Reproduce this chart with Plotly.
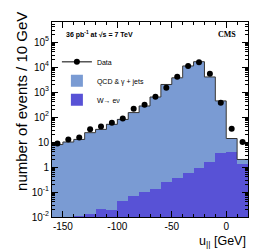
import plotly.graph_objects as go

# bin centres (GeV), 10 GeV bins
bin_centers = [-155, -145, -135, -125, -115, -105, -95, -85, -75, -65,
               -55, -45, -35, -25, -15, -5, 5, 15]
data_counts = [8.8, 12.7, 15.3, 32, 42, 59, 88, 213, 310, 650,
               1480, 4100, 11000, 15500, 5400, 370, 34, 10]
qcd_counts = [7.9, 10, 12.7, 23.6, 32, 51, 80, 150, 276, 630,
              2000, 3700, 11000, 16300, 4000, 436, 9.7, 0.65]
wenu_counts = [0.005, 0.007, 0.0105, 0.0135, 0.021, 0.019, 0.044, 0.069, 0.10, 0.138,
               0.25, 0.37, 0.57, 0.93, 1.6, 3.8, 4.1, 1.35]
bin_width = 10

x_tickvals = [-150, -100, -50, 0]
x_ticktext = ["-150", "-100", "-50", "0"]
y_tickvals = [0.01, 0.1, 1, 10, 100, 1000, 10000, 100000]
y_ticktext = ["10<sup>-2</sup>", "10<sup>-1</sup>", "1", "10", "10<sup>2</sup>",
              "10<sup>3</sup>", "10<sup>4</sup>", "10<sup>5</sup>"]

LIGHT = "#7a9bd3"
DARK = "#5852d6"
SANS = "Liberation Sans"
NARROW = "Liberation Sans Narrow, Liberation Sans"
BAR_BASE = 1e-4  # below the visible axis range (histograms drawn from the floor)

# stacked histogram: total = QCD on top of W
totals = [q + w for q, w in zip(qcd_counts, wenu_counts)]
edges = [c - bin_width / 2 for c in bin_centers] + [bin_centers[-1] + bin_width / 2]

fig = go.Figure()
fig.add_trace(go.Bar(x=bin_centers, y=[t - BAR_BASE for t in totals], base=BAR_BASE,
                     width=bin_width, name="QCD & \u03b3 + jets",
                     marker=dict(color=LIGHT, line=dict(width=0)), legendrank=2))
fig.add_trace(go.Bar(x=bin_centers, y=[w - BAR_BASE for w in wenu_counts], base=BAR_BASE,
                     width=bin_width, name="W\u2192 e\u03bd",
                     marker=dict(color=DARK, line=dict(width=0)), legendrank=3))
fig.add_trace(go.Scatter(x=edges, y=totals + [totals[-1]], mode="lines", line_shape="hv",
                         line=dict(color="#333333", width=1), showlegend=False, hoverinfo="skip"))
fig.add_trace(go.Scatter(x=bin_centers, y=data_counts, mode="markers",
                         marker=dict(color="black", size=6), showlegend=False))
fig.add_trace(go.Scatter(x=[None], y=[None], mode="lines+markers", name="Data",
                         marker=dict(color="black", size=6), line=dict(color="black", width=1),
                         legendrank=1))

fig.update_layout(
    width=262, height=249,
    margin=dict(l=44, r=22, t=14, b=40),
    paper_bgcolor="white", plot_bgcolor="white",
    barmode="overlay", bargap=0,
    font=dict(family=SANS, color="black"),
    showlegend=True,
    legend=dict(x=0.025, y=0.87, xanchor="left", yanchor="top", traceorder="normal",
                bgcolor="rgba(0,0,0,0)", font=dict(family=NARROW, size=7),
                itemwidth=30, tracegroupgap=0),
    xaxis=dict(range=[-160, 20], tickvals=x_tickvals, ticktext=x_ticktext,
               ticks="inside", ticklen=6, tickcolor="black", showline=True, linecolor="black",
               linewidth=1, mirror="allticks", showgrid=False, zeroline=False,
               tickfont=dict(family=NARROW, size=10),
               minor=dict(dtick=10, ticks="inside", ticklen=3, tickcolor="black", showgrid=False)),
    yaxis=dict(type="log", range=[-2, 5.8], tickvals=y_tickvals, ticktext=y_ticktext,
               ticks="inside", ticklen=6, tickcolor="black", showline=True, linecolor="black",
               linewidth=1, mirror="allticks", showgrid=False, zeroline=False,
               tickfont=dict(family=SANS, size=10),
               minor=dict(dtick="D1", ticks="inside", ticklen=3, tickcolor="black", showgrid=False)),
)

fig.add_annotation(text="number of events / 10 GeV", textangle=-90, xref="paper", yref="paper",
                   x=-0.153, y=0.59, xanchor="center", yanchor="middle", showarrow=False,
                   font=dict(family=SANS, size=15))
fig.add_annotation(text="u<sub>||</sub> [GeV]", xref="paper", yref="paper",
                   x=1.0, y=-0.127, xanchor="right", yanchor="middle", showarrow=False,
                   font=dict(family=SANS, size=12.5))
fig.add_annotation(text="<b>36 pb<sup>-1</sup> at \u221as = 7 TeV</b>", xref="paper", yref="paper",
                   x=0.062, y=0.938, xanchor="left", yanchor="middle", showarrow=False,
                   font=dict(family=NARROW, size=7))
fig.add_annotation(text="<b>CMS</b>", xref="paper", yref="paper",
                   x=0.95, y=0.938, xanchor="right", yanchor="middle", showarrow=False,
                   font=dict(family="Liberation Serif", size=8))

fig.write_html("out.html")
